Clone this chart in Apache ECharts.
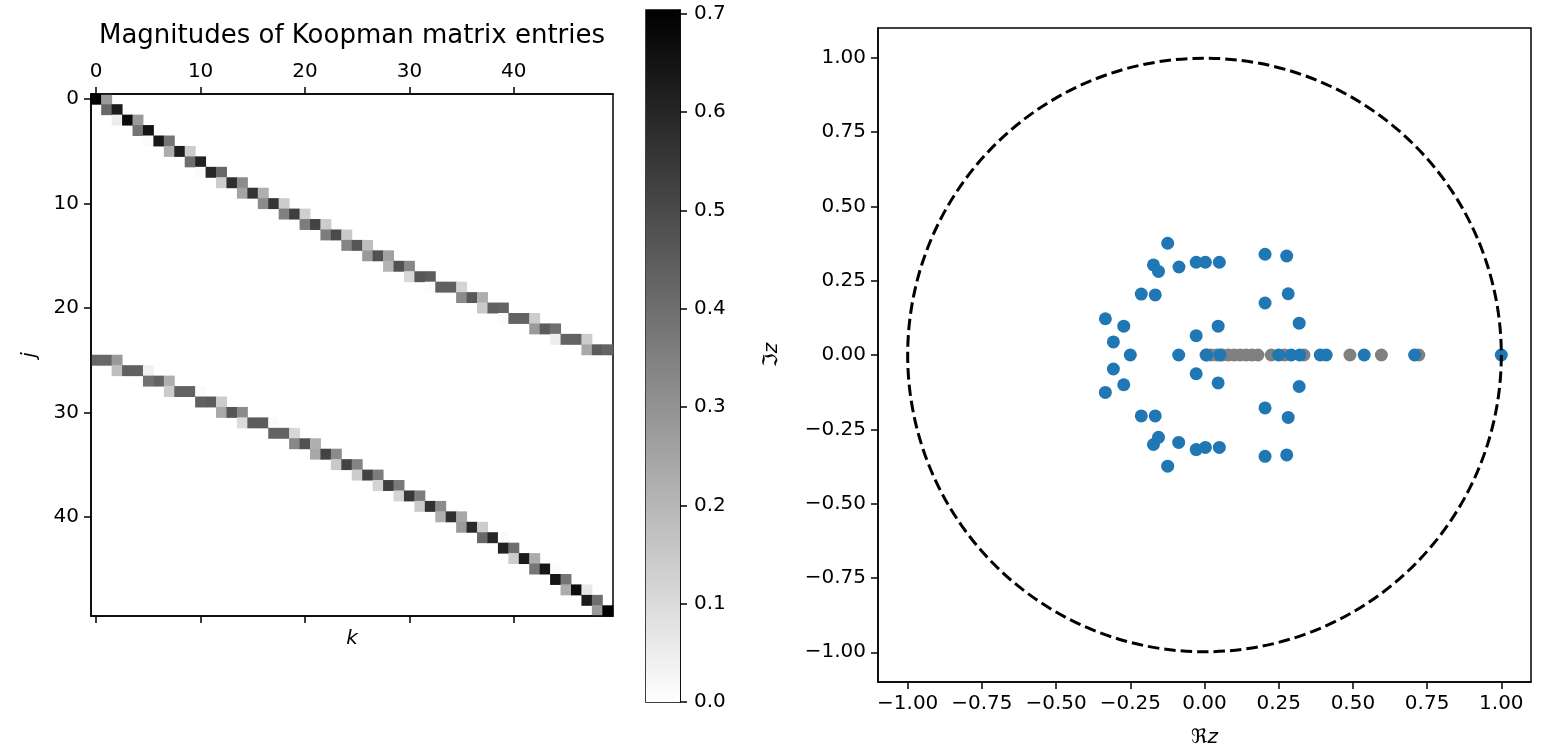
<!DOCTYPE html>
<html>
<head>
<meta charset="utf-8">
<script src="https://cdn.jsdelivr.net/npm/echarts@6/dist/echarts.min.js"></script>
<style>
  html, body { margin: 0; padding: 0; background: #fff; }
  #chart { width: 1541px; height: 750px; }
</style>
</head>
<body>
<div id="chart"></div>
<script>
// ---- data ----
const matrixSize = 50
const colorMax = 0.704
const colorTicks = [0, 0.1, 0.2, 0.3, 0.4, 0.5, 0.6, 0.7]
const planeTicks = [-1, -0.75, -0.5, -0.25, 0, 0.25, 0.5, 0.75, 1]
const planeRange = [-1.1, 1.1]

// [k, j, |K_jk|]  upper band
const topBand = [
  [0, 0, 0.70], [1, 0, 0.28],
  [1, 1, 0.42], [2, 1, 0.63],
  [2, 2, 0.05], [3, 2, 0.67], [4, 2, 0.28],
  [4, 3, 0.38], [5, 3, 0.65],
  [5, 4, 0.01], [6, 4, 0.64], [7, 4, 0.38],
  [7, 5, 0.23], [8, 5, 0.62], [9, 5, 0.14],
  [9, 6, 0.40], [10, 6, 0.61],
  [10, 7, 0.01], [11, 7, 0.60], [12, 7, 0.42],
  [12, 8, 0.14], [13, 8, 0.58], [14, 8, 0.32],
  [14, 9, 0.25], [15, 9, 0.56], [16, 9, 0.22],
  [16, 10, 0.32], [17, 10, 0.56], [18, 10, 0.14],
  [18, 11, 0.35], [19, 11, 0.53], [20, 11, 0.13],
  [20, 12, 0.36], [21, 12, 0.52], [22, 12, 0.14],
  [22, 13, 0.36], [23, 13, 0.50], [24, 13, 0.15],
  [24, 14, 0.34], [25, 14, 0.47], [26, 14, 0.18],
  [26, 15, 0.28], [27, 15, 0.48], [28, 15, 0.26],
  [28, 16, 0.21], [29, 16, 0.48], [30, 16, 0.33],
  [30, 17, 0.11], [31, 17, 0.46], [32, 17, 0.45],
  [32, 18, 0.01], [33, 18, 0.44], [34, 18, 0.44], [35, 18, 0.12],
  [35, 19, 0.32], [36, 19, 0.46], [37, 19, 0.22],
  [37, 20, 0.15], [38, 20, 0.44], [39, 20, 0.43],
  [39, 21, 0.01], [40, 21, 0.43], [41, 21, 0.43], [42, 21, 0.14],
  [42, 22, 0.28], [43, 22, 0.45], [44, 22, 0.40],
  [44, 23, 0.05], [45, 23, 0.43], [46, 23, 0.43], [47, 23, 0.14],
  [47, 24, 0.24], [48, 24, 0.45], [49, 24, 0.43]
]

// [k, j, |K_jk|]  lower band
const bottomBand = [
  [0, 25, 0.42], [1, 25, 0.42], [2, 25, 0.28],
  [2, 26, 0.18], [3, 26, 0.44], [4, 26, 0.44], [5, 26, 0.04],
  [5, 27, 0.39], [6, 27, 0.43], [7, 27, 0.22],
  [7, 28, 0.14], [8, 28, 0.43], [9, 28, 0.43], [10, 28, 0.01],
  [10, 29, 0.44], [11, 29, 0.45], [12, 29, 0.14],
  [12, 30, 0.24], [13, 30, 0.47], [14, 30, 0.32],
  [14, 31, 0.10], [15, 31, 0.45], [16, 31, 0.45], [17, 31, 0.01],
  [17, 32, 0.43], [18, 32, 0.43], [19, 32, 0.11],
  [19, 33, 0.33], [20, 33, 0.48], [21, 33, 0.22],
  [21, 34, 0.24], [22, 34, 0.52], [23, 34, 0.32],
  [23, 35, 0.15], [24, 35, 0.52], [25, 35, 0.34],
  [25, 36, 0.14], [26, 36, 0.52], [27, 36, 0.36],
  [27, 37, 0.12], [28, 37, 0.53], [29, 37, 0.37],
  [29, 38, 0.12], [30, 38, 0.55], [31, 38, 0.36],
  [31, 39, 0.15], [32, 39, 0.57], [33, 39, 0.32],
  [33, 40, 0.22], [34, 40, 0.57], [35, 40, 0.24],
  [35, 41, 0.28], [36, 41, 0.59], [37, 41, 0.14],
  [37, 42, 0.42], [38, 42, 0.60], [39, 42, 0.01],
  [39, 43, 0.61], [40, 43, 0.40],
  [40, 44, 0.14], [41, 44, 0.63], [42, 44, 0.23],
  [42, 45, 0.38], [43, 45, 0.64], [44, 45, 0.01],
  [44, 46, 0.65], [45, 46, 0.38],
  [45, 47, 0.23], [46, 47, 0.67], [47, 47, 0.07],
  [47, 48, 0.63], [48, 48, 0.40],
  [48, 49, 0.28], [49, 49, 0.70]
]

// eigenvalues [Re, Im]
const blueEigs = [
  [-0.124, 0.376], [-0.172, 0.303], [-0.155, 0.281], [-0.086, 0.296],
  [-0.028, 0.312], [0.003, 0.312], [0.050, 0.312], [0.204, 0.339],
  [0.277, 0.333], [-0.213, 0.205], [-0.166, 0.202], [0.204, 0.175],
  [0.282, 0.206], [-0.334, 0.122], [-0.272, 0.097], [-0.307, 0.044],
  [-0.028, 0.065], [0.046, 0.097], [0.319, 0.107],
  [-0.250, 0], [-0.087, 0], [0.007, 0], [0.052, 0], [0.250, 0], [0.292, 0],
  [0.321, 0], [0.390, 0], [0.410, 0], [0.538, 0], [0.708, 0], [1.000, 0],
  [-0.307, -0.047], [-0.334, -0.126], [-0.272, -0.100], [-0.028, -0.063],
  [0.046, -0.094], [0.319, -0.106], [0.204, -0.178], [0.282, -0.210],
  [-0.213, -0.205], [-0.166, -0.205], [-0.155, -0.277], [-0.172, -0.301],
  [-0.087, -0.294], [-0.028, -0.318], [0.003, -0.311], [0.050, -0.311],
  [0.204, -0.341], [0.277, -0.336], [-0.124, -0.374]
]
const grayEigs = [
  [0.005, 0], [0.022, 0], [0.040, 0], [0.060, 0], [0.080, 0], [0.100, 0],
  [0.120, 0], [0.140, 0], [0.160, 0], [0.180, 0], [0.225, 0], [0.270, 0],
  [0.335, 0], [0.490, 0], [0.596, 0], [0.722, 0]
]
// [centre Re, centre Im, radius]
const unitCircle = [[0, 0, 1]]

// ---- chart ----
const FONT = 'DejaVu Sans'
const indices = Array.from({ length: matrixSize }, (_, i) => String(i))
const black = { color: '#000', width: 1.5 }
const tickFont = { color: '#000', fontSize: 20, fontFamily: FONT }
const signed = (v) => (v < 0 ? '\u2212' : '') + Math.abs(v).toFixed(2)
const catTick = { show: true, interval: 9, alignWithLabel: true, length: 7, lineStyle: black }

const chart = echarts.init(document.getElementById('chart'))

const option = {
  animation: false,
  backgroundColor: '#fff',
  textStyle: { fontFamily: FONT },
  graphic: [
    {
      type: 'text', x: 352, y: 36,
      style: {
        text: 'Magnitudes of Koopman matrix entries',
        textAlign: 'center', textVerticalAlign: 'middle',
        fontSize: 26, fontFamily: FONT, fill: '#000'
      }
    }
  ],
  grid: [
    { left: 91, top: 94, width: 522, height: 522, show: true, borderColor: '#000', borderWidth: 1.5, outerBoundsMode: 'none' },
    { left: 646, top: 10, width: 34, height: 692, show: true, borderColor: '#000', borderWidth: 1.5, outerBoundsMode: 'none' },
    { left: 878, top: 28, width: 653, height: 654, show: true, borderColor: '#000', borderWidth: 1.5, outerBoundsMode: 'none' }
  ],
  visualMap: {
    type: 'continuous', show: false, seriesIndex: 0,
    min: 0, max: colorMax,
    inRange: { color: ['#ffffff', '#000000'] }
  },
  xAxis: [
    {
      gridIndex: 0, type: 'category', data: indices, position: 'top', z: 5,
      axisLine: { show: true, lineStyle: black },
      axisTick: catTick,
      axisLabel: Object.assign({ interval: 9, margin: 12 }, tickFont),
      splitLine: { show: false }
    },
    {
      // bottom spine: ticks only
      gridIndex: 0, type: 'category', data: indices, position: 'bottom', z: 5,
      axisLine: { show: true, lineStyle: black },
      axisTick: catTick,
      axisLabel: { show: true, interval: 9, formatter: () => '', fontSize: 20 },
      name: 'k', nameLocation: 'middle', nameGap: 10,
      nameTextStyle: { fontSize: 20, fontStyle: 'italic', fontFamily: FONT, color: '#000' }
    },
    {
      gridIndex: 1, type: 'category', data: [''],
      axisLine: { show: false }, axisTick: { show: false }, axisLabel: { show: false }
    },
    {
      gridIndex: 2, type: 'value', min: planeRange[0], max: planeRange[1],
      axisLine: { onZero: false, lineStyle: black },
      axisTick: { customValues: planeTicks, length: 7, lineStyle: black },
      axisLabel: Object.assign({ customValues: planeTicks, margin: 12, formatter: signed }, tickFont),
      splitLine: { show: false },
      name: '{r|\u211C}{i|z}', nameLocation: 'middle', nameGap: 46,
      nameTextStyle: {
        rich: {
          r: { fontSize: 20, fontFamily: FONT, color: '#000' },
          i: { fontSize: 20, fontFamily: FONT, fontStyle: 'italic', color: '#000' }
        }
      }
    }
  ],
  yAxis: [
    {
      gridIndex: 0, type: 'category', data: indices, inverse: true, z: 5,
      axisLine: { show: true, lineStyle: black },
      axisTick: catTick,
      axisLabel: Object.assign({ interval: 9, margin: 12 }, tickFont),
      splitLine: { show: false },
      name: 'j', nameLocation: 'middle', nameGap: 51, nameRotate: 90,
      nameTextStyle: { fontSize: 20, fontStyle: 'italic', fontFamily: FONT, color: '#000' }
    },
    {
      gridIndex: 1, type: 'value', min: 0, max: colorMax, position: 'right',
      axisLine: { show: true, lineStyle: black },
      axisTick: { show: true, customValues: colorTicks, length: 7, lineStyle: black },
      axisLabel: Object.assign({ customValues: colorTicks, margin: 14, formatter: (v) => v.toFixed(1) }, tickFont),
      splitLine: { show: false }
    },
    {
      gridIndex: 2, type: 'value', min: planeRange[0], max: planeRange[1],
      axisLine: { onZero: false, lineStyle: black },
      axisTick: { customValues: planeTicks, length: 7, lineStyle: black },
      axisLabel: Object.assign({ customValues: planeTicks, margin: 12, formatter: signed }, tickFont),
      splitLine: { show: false },
      name: '{r|\u2111}{i|z}', nameLocation: 'middle', nameGap: 96, nameRotate: 90,
      nameTextStyle: {
        rich: {
          r: { fontSize: 20, fontFamily: FONT, color: '#000' },
          i: { fontSize: 20, fontFamily: FONT, fontStyle: 'italic', color: '#000' }
        }
      }
    }
  ],
  series: [
    {
      type: 'heatmap', xAxisIndex: 0, yAxisIndex: 0,
      data: topBand.concat(bottomBand),
      emphasis: { disabled: true }
    },
    {
      // colour bar
      type: 'bar', xAxisIndex: 2, yAxisIndex: 1,
      data: [colorMax], barWidth: '100%', barCategoryGap: 0,
      silent: true,
      itemStyle: {
        color: {
          type: 'linear', x: 0, y: 1, x2: 0, y2: 0,
          colorStops: [{ offset: 0, color: '#ffffff' }, { offset: 1, color: '#000000' }]
        }
      }
    },
    {
      type: 'scatter', xAxisIndex: 3, yAxisIndex: 2,
      data: grayEigs, symbolSize: 13,
      itemStyle: { color: '#808080', opacity: 1 }
    },
    {
      type: 'scatter', xAxisIndex: 3, yAxisIndex: 2,
      data: blueEigs, symbolSize: 13,
      itemStyle: { color: '#1f77b4', opacity: 1 }
    },
    {
      type: 'custom', xAxisIndex: 3, yAxisIndex: 2, z: 10,
      data: unitCircle, silent: true,
      renderItem: function (params, api) {
        const c = api.coord([api.value(0), api.value(1)])
        const e = api.coord([api.value(0) + api.value(2), api.value(1)])
        return {
          type: 'circle',
          shape: { cx: c[0], cy: c[1], r: e[0] - c[0] },
          style: { fill: null, stroke: '#000', lineWidth: 3, lineDash: [11.5, 5] }
        }
      }
    }
  ]
}

chart.setOption(option)
</script>
</body>
</html>
